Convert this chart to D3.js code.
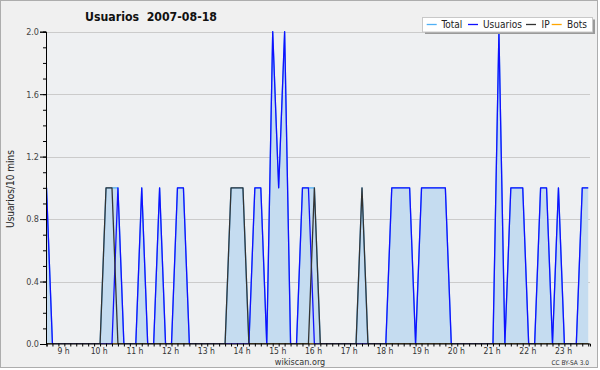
<!DOCTYPE html>
<html><head><meta charset="utf-8">
<script src="https://cdn.jsdelivr.net/npm/d3@7"></script>
<style>
body{margin:0;background:#fff;}
svg{display:block;}
text{font-family:"DejaVu Sans Condensed","DejaVu Sans",sans-serif;}
</style></head>
<body><svg id="c" width="600" height="370"></svg>
<script>
// ---- data (10-minute steps starting 08:30, 2007-08-18) ----
const startTime = new Date(2007, 7, 18, 8, 30);
const endTime = new Date(2007, 7, 18, 23, 43);
const seriesNames = ["Total", "Usuarios", "IP", "Bots"];
const usuarios = [1,0,0,0,0,0,0,0,0,0, 0,0,1,0,0,0,1,0,0,1, 0,0,1,1,0,0,0,0,0,0,
  0,0,0,0,0,1,1,0,2,1, 2,0,0,1,1,0,0,0,0,0, 0,0,0,0,0,0,0,0,1,1,
  1,1,0,1,1,1,1,1,0,0, 0,0,0,0,0,0,2,0,1,1, 1,0,0,1,1,0,1,0,0,0, 1,1];
const ip = [0,0,0,0,0,0,0,0,0,0, 1,1,0,0,0,0,0,0,0,0, 0,0,0,0,0,0,0,0,0,0,
  0,1,1,1,0,0,0,0,0,0, 0,0,0,0,0,1,0,0,0,0, 0,0,0,1,0,0,0,0,0,0,
  0,0,0,0,0,0,0,0,0,0, 0,0,0,0,0,0,0,0,0,0, 0,0,0,0,0,0,0,0,0,0, 0,0];
const total = [1,0,0,0,0,0,0,0,0,0, 1,1,1,0,0,0,1,0,0,1, 0,0,1,1,0,0,0,0,0,0,
  0,1,1,1,0,1,1,0,2,1, 2,0,0,1,1,1,0,0,0,0, 0,0,0,1,0,0,0,0,1,1,
  1,1,0,1,1,1,1,1,0,0, 0,0,0,0,0,0,2,0,1,1, 1,0,0,1,1,0,1,0,0,0, 1,1];
const bots = [0,0,0,0,0,0,0,0,0,0, 0,0,0,0,0,0,0,0,0,0, 0,0,0,0,0,0,0,0,0,0,
  0,0,0,0,0,0,0,0,0,0, 0,0,0,0,0,0,0,0,0,0, 0,0,0,0,0,0,0,0,0,0,
  0,0,0,0,0,0,0,0,0,0, 0,0,0,0,0,0,0,0,0,0, 0,0,0,0,0,0,0,0,0,0, 0,0];
const yMajorTicks = [0, 0.4, 0.8, 1.2, 1.6, 2.0];
const titleText = "Usuarios\u00a0\u00a02007-08-18";
const yTitle = "Usuarios/10 mins";

const times = d3.timeMinute.every(10).range(startTime, new Date(+startTime + usuarios.length * 600000));

// ---- layout ----
const svg = d3.select("#c");
const L = 46.5, R = 590, T = 31.7, B = 344;
svg.append("rect").attr("x", 0.5).attr("y", 0.5).attr("width", 597).attr("height", 367)
  .attr("fill", "#f0f0f0").attr("stroke", "#adadad");
svg.append("rect").attr("x", L).attr("y", T).attr("width", R - L).attr("height", B - T).attr("fill", "#eef0f2");

const x = d3.scaleTime().domain([startTime, endTime]).range([L, R]);
const y = d3.scaleLinear().domain([0, 2]).range([B, T]);

// grid
svg.append("g").selectAll("line").data(yMajorTicks.filter(d => d > 0)).join("line")
  .attr("x1", L).attr("x2", R).attr("y1", d => Math.round(y(d)) + 0.5).attr("y2", d => Math.round(y(d)) + 0.5)
  .attr("stroke", "#cbcbcb").attr("stroke-width", 1);

svg.append("defs").append("clipPath").attr("id", "clip").append("rect")
  .attr("x", L).attr("y", T - 2).attr("width", R - L).attr("height", B - T + 2);
const plot = svg.append("g").attr("clip-path", "url(#clip)");

const area = d3.area().x((d, i) => x(times[i])).y0(y(0)).y1(d => y(d));
const line = d3.line().x((d, i) => x(times[i])).y(d => y(d));
plot.append("path").attr("d", area(total)).attr("fill", "#c5dcf0");
const colors = {Total: "#4fb0f5", Usuarios: "#1010ff", IP: "#333333", Bots: "#ffa500"};
const sets = {Total: total, Usuarios: usuarios, IP: ip, Bots: bots};
["Total", "Bots", "Usuarios", "IP"].forEach(k => {
  plot.append("path").attr("d", line(sets[k])).attr("fill", "none")
    .attr("stroke", colors[k]).attr("stroke-width", 1.3).attr("stroke-linejoin", "round");
});

// y axis
const yMinor = d3.axisLeft(y).tickValues(d3.range(0, 21).map(v => v / 10)).tickSize(3).tickFormat("");
const yMajor = d3.axisLeft(y).tickValues(yMajorTicks).tickSize(6).tickPadding(1).tickFormat(d3.format(".1f"));
const gy1 = svg.append("g").attr("transform", `translate(${L - 0.5},0)`).call(yMinor);
const gy2 = svg.append("g").attr("transform", `translate(${L - 0.5},0)`).call(yMajor);
[gy1, gy2].forEach(g => { g.select(".domain").attr("stroke", "#000"); g.selectAll("line").attr("stroke", "#000"); });
gy2.selectAll("text").attr("font-size", 9).attr("fill", "#444").attr("font-family", "'DejaVu Sans Condensed',sans-serif");

// x axis
const xAx = d3.axisBottom(x).ticks(d3.timeMinute.every(10)).tickSize(3).tickPadding(1)
  .tickFormat(d => d.getMinutes() === 0 ? d.getHours() + " h" : "");
const gx = svg.append("g").attr("transform", `translate(0,${B - 0.5})`).call(xAx);
gx.select(".domain").attr("stroke", "#000");
gx.selectAll("line").attr("stroke", "#000");
gx.selectAll("text").attr("font-size", 8.5).attr("fill", "#333").attr("dx", -1.4);

// titles
svg.append("text").attr("x", 85).attr("y", 21).attr("font-size", 13).attr("font-weight", "bold")
  .attr("textLength", 132).attr("lengthAdjust", "spacingAndGlyphs").attr("fill", "#111").text(titleText);
svg.append("text").attr("transform", "translate(14,189) rotate(-90)").attr("text-anchor", "middle")
  .attr("font-family", "'DejaVu Sans Mono',monospace").attr("font-size", 10).attr("fill", "#222").text(yTitle);
svg.append("text").attr("x", 300).attr("y", 365).attr("text-anchor", "middle").attr("font-size", 9)
  .attr("fill", "#333").text("wikiscan.org");
svg.append("text").attr("x", 589).attr("y", 365).attr("text-anchor", "end").attr("font-size", 6.5)
  .attr("fill", "#333").text("CC BY-SA 3.0");

// legend
const lg = svg.append("g");
lg.append("rect").attr("x", 425).attr("y", 19.5).attr("width", 170).attr("height", 14.5).attr("fill", "#9a9a9a");
lg.append("rect").attr("x", 422.5).attr("y", 17.5).attr("width", 170).attr("height", 14.5)
  .attr("fill", "#fff").attr("stroke", "#c8c8c8");
const legItems = [
  {name: seriesNames[0], lx: 426.7, tx: 441.5},
  {name: seriesNames[1], lx: 468, tx: 483},
  {name: seriesNames[2], lx: 526, tx: 541.5},
  {name: seriesNames[3], lx: 551.7, tx: 567}
];
legItems.forEach(it => {
  lg.append("line").attr("x1", it.lx).attr("x2", it.lx + 10).attr("y1", 24.5).attr("y2", 24.5)
    .attr("stroke", colors[it.name]).attr("stroke-width", 1.3);
  lg.append("text").attr("x", it.tx).attr("y", 28.2).attr("font-size", 10).attr("fill", "#222").text(it.name);
});
</script></body></html>
